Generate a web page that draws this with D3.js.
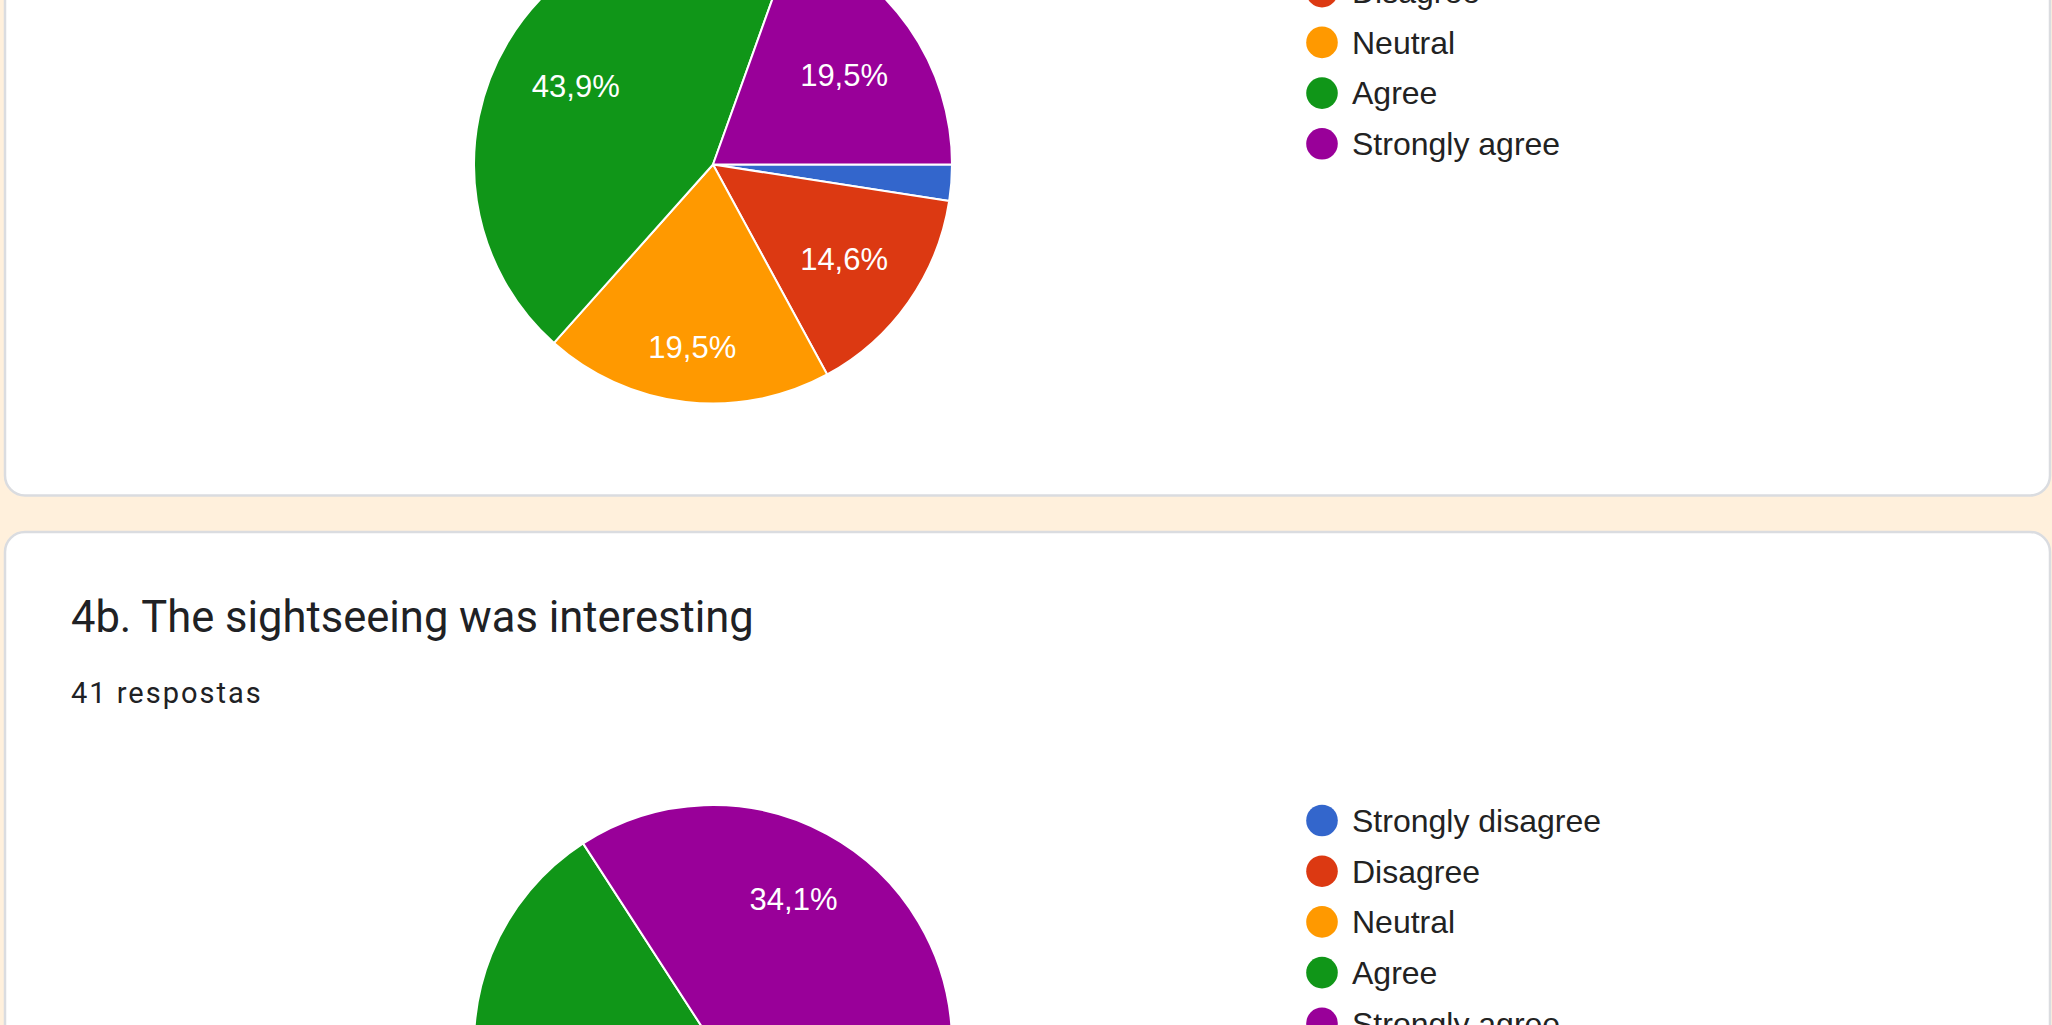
<!DOCTYPE html>
<html>
<head>
<meta charset="utf-8">
<script src="https://cdn.jsdelivr.net/npm/d3@7"></script>
<style>
  body{ margin:0; background:#fff0dc; overflow:hidden; }
  svg{ display:block; }
</style>
</head>
<body>
<div id="page"></div>
<script>
// answers, same order for both questions
const categories = ["Strongly disagree", "Disagree", "Neutral", "Agree", "Strongly agree"];
const palette = ["#3366cc", "#dc3912", "#ff9900", "#109618", "#990099"];

// 4a (card above, title scrolled out of view)
const countsA = [1, 6, 8, 18, 8];
// 4b - only the purple slice and part of the green one are on screen
const countsB = [1, 2, 8, 16, 14];

const titleB = "4b. The sightseeing was interesting";
const responsesB = "41 respostas";

class PieCard{
  constructor(svg, top, bottom, counts, title, responses){
    this.svg = svg;
    this.top = top;
    this.bottom = bottom;
    this.counts = counts;
    this.title = title;
    this.responses = responses;
  }

  render(){
    let g = this.svg.append("g");
    //card
    g.append("rect")
      .attr("x", 5)
      .attr("y", this.top)
      .attr("width", 2045)
      .attr("height", this.bottom - this.top)
      .attr("rx", 20)
      .attr("fill", "#fff")
      .attr("stroke", "#dadce0")
      .attr("stroke-width", 2.5);

    if(this.title){
      g.append("text")
        .text(this.title)
        .attr("x", 71)
        .attr("y", this.top + 100)
        .attr("font-family", "Roboto, 'Open Sans', sans-serif")
        .attr("font-size", "43.5px")
        .attr("fill", "#202124");
      g.append("text")
        .text(this.responses)
        .attr("x", 71)
        .attr("y", this.top + 171)
        .attr("font-family", "Roboto, sans-serif")
        .attr("font-size", "29px")
        .attr("letter-spacing", "2px")
        .attr("fill", "#202124");
    }
    this.renderPie(g);
  }

  renderPie(g){
    let r = 239;
    let cx = 713;
    let cy = this.top + 512;
    let labelFont = 31;

    let color = d3.scaleOrdinal().domain(categories).range(palette);
    let total = d3.sum(this.counts);
    let dataset = categories.map((c, i) => ({name: c, value: this.counts[i]}));

    // google starts the first slice at 3 o'clock
    let pie = d3.pie()
      .sort(null)
      .value(d => d.value)
      .startAngle(Math.PI / 2)
      .endAngle(Math.PI / 2 + 2 * Math.PI);
    let arcs = pie(dataset);
    let arc = d3.arc().innerRadius(0).outerRadius(r);

    let pg = g.append("g").attr("transform", `translate(${cx},${cy})`);

    pg.selectAll("path")
      .data(arcs)
      .enter()
      .append("path")
      .attr("d", arc)
      .attr("fill", d => color(d.data.name))
      .attr("stroke", "#fff")
      .attr("stroke-width", 2)
      .attr("stroke-linejoin", "round");

    let fmt = v => (v / total * 100).toFixed(1).replace(".", ",") + "%";

    let labels = pg.selectAll("text.pct")
      .data(arcs.filter(d => d.value / total >= 0.05))
      .enter()
      .append("text")
      .attr("class", "pct")
      .text(d => fmt(d.value))
      .attr("font-family", "'Liberation Sans', Arial, sans-serif")
      .attr("font-size", labelFont + "px")
      .attr("fill", "#fff")
      .attr("text-anchor", "middle");

    // push each label out until the far corner of its box hits 0.86r
    let outer = r * 0.86;
    labels.each(function(d){
      let hw = this.getComputedTextLength() / 2;
      let hh = labelFont / 2;
      let a = (d.startAngle + d.endAngle) / 2;
      let ux = Math.sin(a), uy = -Math.cos(a);
      let p = Math.abs(ux) * hw + Math.abs(uy) * hh;
      let dist = -p + Math.sqrt(p * p - (hw * hw + hh * hh) + outer * outer);
      d3.select(this)
        .attr("x", ux * dist)
        .attr("y", uy * dist + labelFont * 0.44);
    });

    // legend
    let y = d3.scalePoint().domain(categories).range([0, 4 * 50.7]);
    let lg = g.append("g").attr("transform", `translate(1322,${cy - 223.5})`);
    let rows = lg.selectAll("g")
      .data(categories)
      .enter()
      .append("g")
      .attr("transform", d => `translate(0,${y(d)})`);
    rows.append("circle")
      .attr("r", 15.8)
      .attr("fill", d => color(d));
    rows.append("text")
      .text(d => d)
      .attr("x", 30)
      .attr("y", 11.3)
      .attr("font-family", "'Liberation Sans', Arial, sans-serif")
      .attr("font-size", "32px")
      .attr("fill", "#222");
  }
}

let svg = d3.select("#page")
  .append("svg")
  .attr("width", 2052)
  .attr("height", 1025);

new PieCard(svg, -347.5, 495.5, countsA, null, null).render();
new PieCard(svg, 532, 1700, countsB, titleB, responsesB).render();
</script>
</body>
</html>
